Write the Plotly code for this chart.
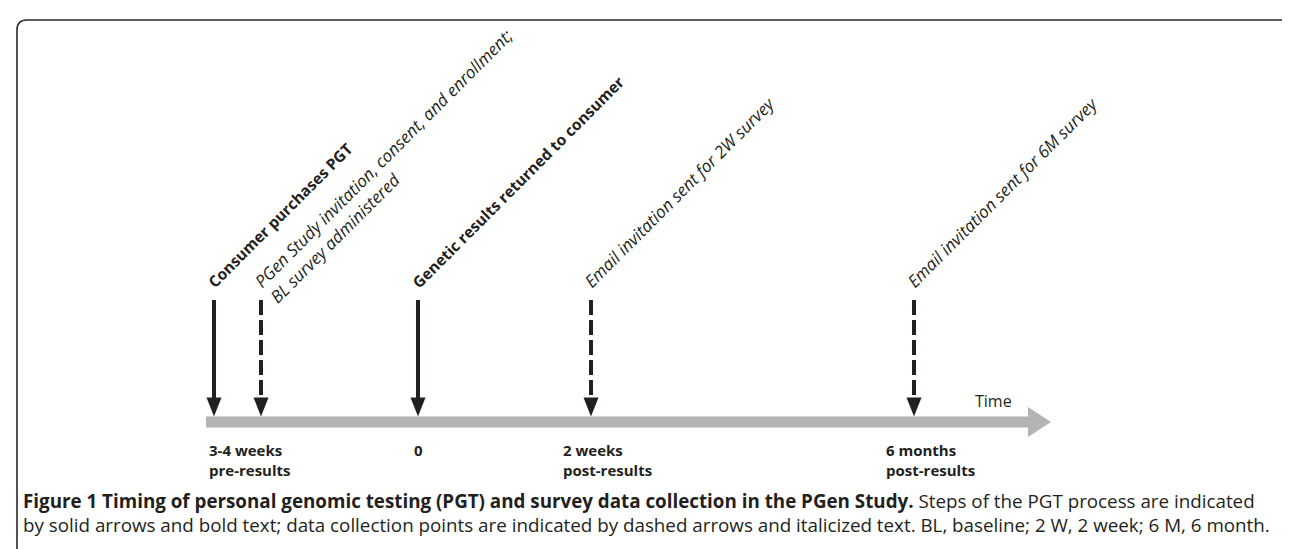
import plotly.graph_objects as go

# ---------------- data ----------------
event_labels = [
    "Consumer purchases PGT",
    "PGen Study invitation, consent, and enrollment;<br>BL survey administered",
    "Genetic results returned to consumer",
    "Email invitation sent for 2W survey",
    "Email invitation sent for 6M survey",
]
event_kind = ["step", "data", "step", "data", "data"]   # step = solid/bold, data = dashed/italic
event_x = [206, 253, 410, 583, 906]                        # position along the timeline

time_labels = ["3-4 weeks<br>pre-results", "0", "2 weeks<br>post-results", "6 months<br>post-results"]
time_label_event = [0, 2, 3, 4]                            # event each time label belongs to

axis_label = "Time"
caption_bold = "Figure 1 Timing of personal genomic testing (PGT) and survey data collection in the PGen Study."
caption_rest = " Steps of the PGT process are indicated"
caption_line2 = ("by solid arrows and bold text; data collection points are indicated by dashed arrows "
                 "and italicized text. BL, baseline; 2 W, 2 week; 6 M, 6 month.")

# ---------------- layout constants ----------------
W, H = 1290, 549
FONT = "Open Sans"
INK = "#231f20"
GREY = "#b4b4b7"

bar_y = 414
bar_half = 5.5
bar_x0 = 198
head_base = 1020
head_tip = 1043
head_half = 15

arrow_top = 292
arrow_tip = bar_y - bar_half
ah_len = 19
ah_half = 7.5

fig = go.Figure()
shapes = []
annotations = []

# frame (rounded box, bottom cut off)
r = 10
shapes.append(dict(
    type="path", xref="x", yref="y",
    path=f"M 9,{H+5} L 9,{12+r} Q 9,12 {9+r},12 L {1288-r},12 Q 1288,12 1288,{12+r} L 1288,{H+5}",
    line=dict(color="#2a2a2a", width=1.6)))

# timeline bar + head
shapes.append(dict(
    type="path", xref="x", yref="y",
    path=(f"M {bar_x0},{bar_y-bar_half} L {head_base},{bar_y-bar_half} L {head_base},{bar_y-head_half} "
          f"L {head_tip},{bar_y} L {head_base},{bar_y+head_half} L {head_base},{bar_y+bar_half} "
          f"L {bar_x0},{bar_y+bar_half} Z"),
    fillcolor=GREY, line=dict(width=0)))

# event arrows
for ex, kind in zip(event_x, event_kind):
    shapes.append(dict(
        type="line", xref="x", yref="y",
        x0=ex, x1=ex, y0=arrow_top, y1=arrow_tip - ah_len + 1,
        line=dict(color=INK, width=4, dash="solid" if kind == "step" else "15px,5px")))
    shapes.append(dict(
        type="path", xref="x", yref="y",
        path=f"M {ex-ah_half},{arrow_tip-ah_len} L {ex+ah_half},{arrow_tip-ah_len} L {ex},{arrow_tip} Z",
        fillcolor=INK, line=dict(width=0)))

# rotated event labels
ang = 45
c = 0.7071
for ex, kind, lab in zip(event_x, event_kind, event_labels):
    n = lab.count("<br>") + 1
    size = 15.5 if kind == "step" else 17
    lh = size * 1.3
    txt = f"<b>{lab}</b>" if kind == "step" else f"<i>{lab.replace('<br>', '</i><br><i>')}</i>"
    sx, sy = ex + 2, arrow_top - 5          # start of first line (bottom-left)
    blx = sx + (n - 1) * lh * c
    bly = sy + (n - 1) * lh * c
    boxh = n * lh + 2
    annotations.append(dict(
        x=blx - c * boxh, y=bly, xref="x", yref="y",
        xanchor="left", yanchor="bottom", text=txt, textangle=-ang,
        showarrow=False, align="left",
        font=dict(family=FONT, size=size, color=INK)))

# time labels under the bar
lab_top = bar_y + 16
for lab, ei in zip(time_labels, time_label_event):
    ex = event_x[ei]
    if "<br>" in lab:
        off = -7 if ei == 0 else -30
        annotations.append(dict(
            x=ex + off, y=lab_top, xref="x", yref="y", xanchor="left", yanchor="top",
            text=f"<b>{lab}</b>", showarrow=False, align="left",
            font=dict(family=FONT, size=15, color=INK)))
    else:
        annotations.append(dict(
            x=ex, y=lab_top, xref="x", yref="y", xanchor="center", yanchor="top",
            text=f"<b>{lab}</b>", showarrow=False,
            font=dict(family=FONT, size=15, color=INK)))

# "Time"
annotations.append(dict(
    x=985, y=bar_y - 8, xref="x", yref="y", xanchor="center", yanchor="bottom",
    text=axis_label, showarrow=False, font=dict(family=FONT, size=16, color=INK)))

# caption
annotations.append(dict(
    x=13, y=478, xref="x", yref="y", xanchor="left", yanchor="top", align="left",
    text=f"<b>{caption_bold}</b>{caption_rest}<br>{caption_line2}",
    showarrow=False, font=dict(family=FONT, size=18.8, color=INK)))

fig.update_layout(
    width=W, height=H,
    margin=dict(l=0, r=0, t=0, b=0),
    paper_bgcolor="white", plot_bgcolor="white",
    xaxis=dict(range=[0, W], visible=False, fixedrange=True),
    yaxis=dict(range=[H, 0], visible=False, fixedrange=True),
    shapes=shapes, annotations=annotations, showlegend=False,
)

fig.write_html("out.html")
